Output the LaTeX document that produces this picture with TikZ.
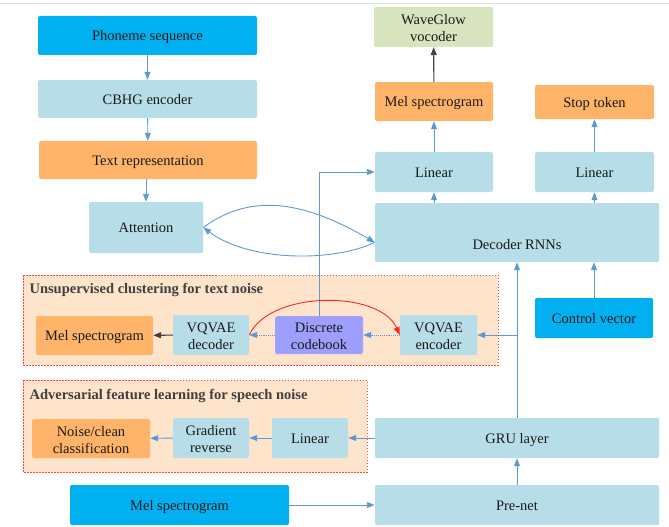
\documentclass[tikz,border=0pt]{standalone}
\usepackage{fontspec}
\setmainfont{Liberation Serif}
\usetikzlibrary{arrows.meta}

\definecolor{brightblue}{HTML}{00B0F0}
\definecolor{paleblue}{HTML}{B7DDE8}
\definecolor{melorange}{HTML}{FFB469}
\definecolor{palegreen}{HTML}{D7E4BD}
\definecolor{peach}{HTML}{FDE4CB}
\definecolor{lavender}{HTML}{9E9EFF}
\definecolor{arrowblue}{HTML}{5B9BD5}
\definecolor{darkgrey}{HTML}{404040}

\tikzset{
    box/.style={rounded corners=2pt, inner sep=0pt, align=center, text=black!90,
        font=\fontsize{14.5}{17}\selectfont, text height=1em, text depth=0pt},
    twoline/.style={text height=29pt, text depth=0pt},
    inbox/.style={box, fill=brightblue},
    midbox/.style={box, fill=paleblue},
    outbox/.style={box, fill=melorange},
    vocbox/.style={box, fill=palegreen},
    codebox/.style={box, fill=lavender, draw=white!70!lavender, dashed},
    group/.style={fill=peach, draw=red!75, dash pattern=on 1.5pt off 1.5pt, line width=0.6pt},
    grouptitle/.style={anchor=west, text=darkgrey, font=\fontsize{14.5}{17}\selectfont\bfseries},
    arr/.style={draw=arrowblue, line width=0.9pt, -{Triangle[length=8pt,width=6pt]}},
    darr/.style={draw=darkgrey, line width=1.1pt, -{Triangle[length=8pt,width=6pt]}},
    dotarr/.style={arr, densely dotted},
    redarr/.style={draw=red!85, line width=0.9pt, -{Triangle[length=8pt,width=6pt]}}
}

\begin{document}
\begin{tikzpicture}[x=1pt, y=-1pt]
    \useasboundingbox (0,0) rectangle (669,527);
    \draw[black!12, line width=0.8pt] (0,3) -- (669,3);

    % groups
    \draw[group] (23,275) rectangle (498,365);
    \node[grouptitle] (T1) at (26,290) {Unsupervised clustering for text noise};
    \draw[group] (23,380) rectangle (367,472);
    \node[grouptitle] (T2) at (26,396) {Adversarial feature learning for speech noise};

    % encoder side
    \node[inbox, minimum width=219pt, minimum height=39pt] (phon) at (147.5,35.5) {Phoneme sequence};
    \node[midbox, minimum width=219pt, minimum height=38pt] (cbhg) at (147.5,99) {CBHG encoder};
    \node[outbox, minimum width=218pt, minimum height=38pt] (text) at (148,160) {Text representation};
    \node[midbox, minimum width=114pt, minimum height=51pt] (att) at (146,227.5) {Attention};

    % decoder side
    \node[vocbox, twoline, minimum width=119pt, minimum height=40pt] (voc) at (433.5,27) {WaveGlow\\vocoder};
    \node[outbox, minimum width=118pt, minimum height=39pt] (melout) at (434,101.5) {Mel spectrogram};
    \node[outbox, minimum width=119pt, minimum height=34pt] (stop) at (594.5,102) {Stop token};
    \node[midbox, minimum width=118pt, minimum height=40pt] (linA) at (434,172) {Linear};
    \node[midbox, minimum width=119pt, minimum height=40pt] (linB) at (594.5,172) {Linear};
    \node[midbox, minimum width=284pt, minimum height=59pt, text height=33pt] (dec) at (517,232.5) {Decoder RNNs};
    \node[inbox, minimum width=118pt, minimum height=40pt] (ctrl) at (594,318) {Control vector};

    % clustering
    \node[outbox, minimum width=117pt, minimum height=39pt] (melvq) at (94.5,335.5) {Mel spectrogram};
    \node[midbox, twoline, minimum width=76pt, minimum height=40pt] (vqdec) at (211,335) {VQVAE\\decoder};
    \node[codebox, twoline, minimum width=88pt, minimum height=38pt] (book) at (319,335) {Discrete\\codebook};
    \node[midbox, twoline, minimum width=77pt, minimum height=40pt] (vqenc) at (438.5,335) {VQVAE\\encoder};

    % adversarial
    \node[outbox, twoline, minimum width=118pt, minimum height=39pt] (cls) at (91,438.5) {Noise/clean\\classification};
    \node[midbox, twoline, minimum width=76pt, minimum height=40pt] (grad) at (211,438) {Gradient\\reverse};
    \node[midbox, minimum width=76pt, minimum height=40pt] (linC) at (310,438) {Linear};
    \node[midbox, minimum width=284pt, minimum height=40pt] (gru) at (517,438) {GRU layer};

    % input
    \node[inbox, minimum width=219pt, minimum height=40pt] (melin) at (179.5,505) {Mel spectrogram};
    \node[midbox, minimum width=284pt, minimum height=40pt] (pre) at (517,505) {Pre-net};

    % connections
    \draw[arr] (phon) -- (cbhg);
    \draw[arr] (cbhg) -- (text);
    \draw[arr] (text.south -| att) -- (att);
    \draw[arr] (book.north) |- (linA.west);
    \draw[arr] (att.east) .. controls +(45,-33) and +(-75,-44) .. (dec.184);
    \draw[arr] (dec.184) .. controls +(-43,20) and +(46,34) .. (att.east);
    \draw[arr] (dec.north -| linA) -- (linA);
    \draw[arr] (linA) -- (melout);
    \draw[darr] (melout) -- (voc);
    \draw[arr] (dec.north -| linB) -- (linB);
    \draw[arr] (linB) -- (stop);
    \draw[arr] (ctrl) -- (ctrl |- dec.south);
    \draw[arr] (gru) -- (dec);
    \draw[arr] (gru.north |- vqenc.east) -- (vqenc.east);
    \draw[dotarr] (vqenc) -- (book);
    \draw[dotarr] (book) -- (vqdec);
    \draw[darr] (vqdec) -- (melvq);
    \draw[redarr] (vqdec.east) .. controls +(21,-45) and +(-20,-45) .. (vqenc.west);
    \draw[arr] (gru) -- (linC);
    \draw[arr] (linC) -- (grad);
    \draw[arr] (grad) -- (cls);
    \draw[arr] (melin) -- (pre);
    \draw[arr] (pre) -- (gru);
\end{tikzpicture}
\end{document}
